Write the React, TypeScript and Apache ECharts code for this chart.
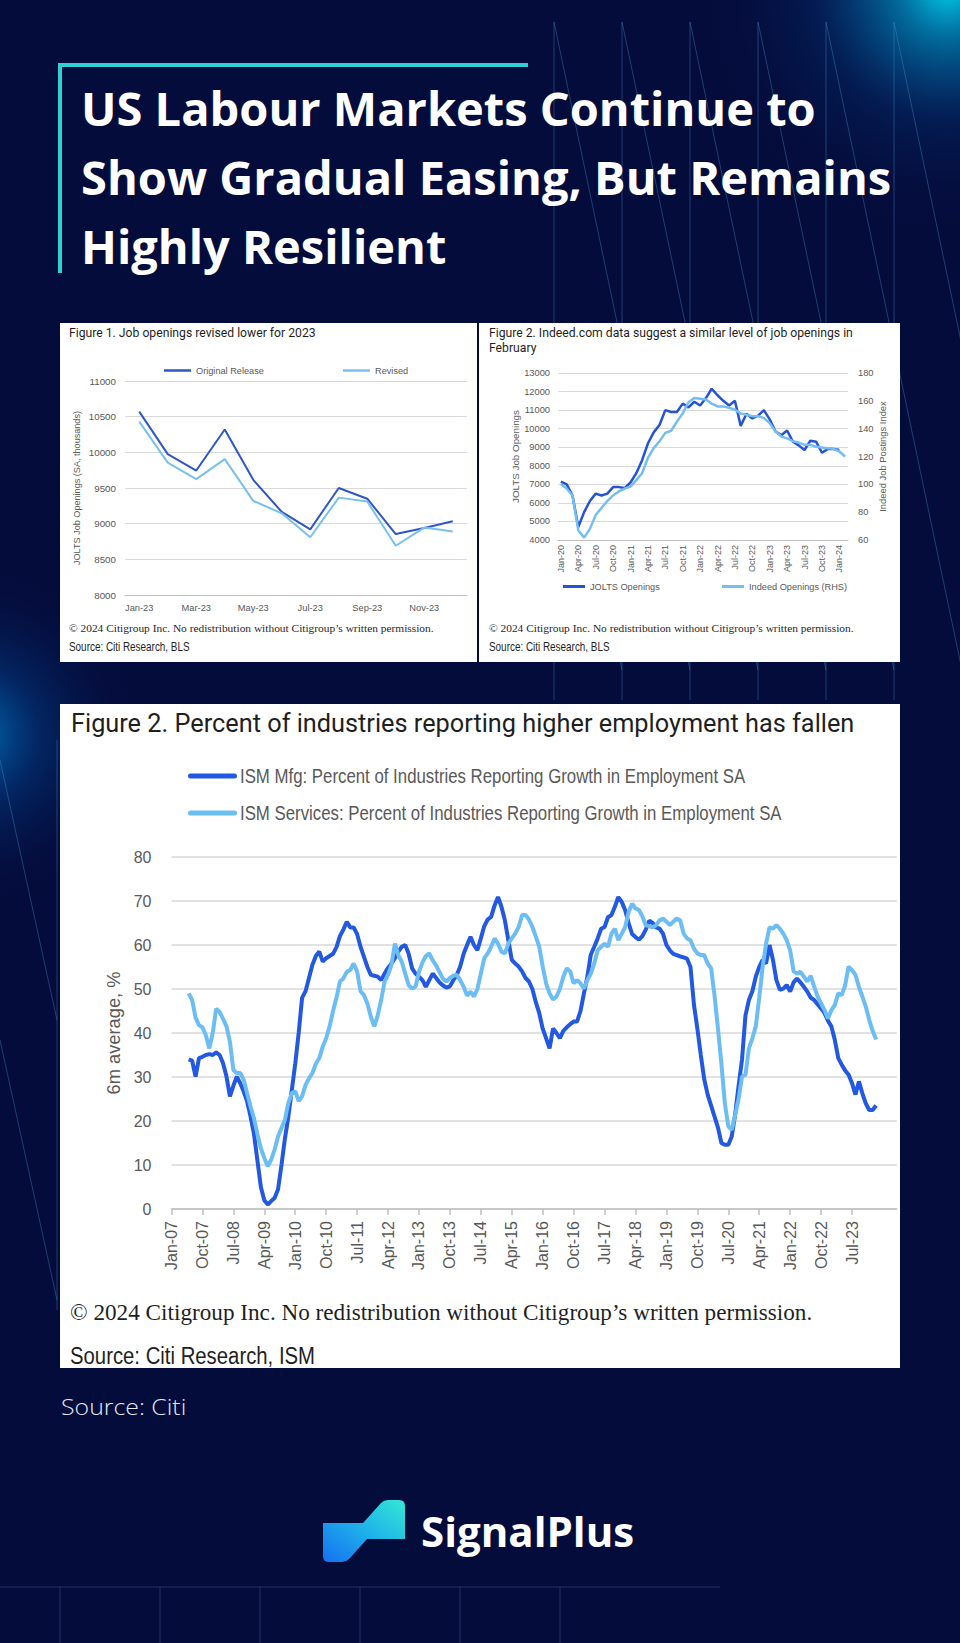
import React, { useEffect, useRef } from "react";
import * as echarts from "echarts";

// ---------- shared labels ----------
const MONTHS = ["Jan", "Feb", "Mar", "Apr", "May", "Jun", "Jul", "Aug", "Sep", "Oct", "Nov", "Dec"];
function monthLabels(startYear: number, startMonth: number, count: number): string[] {
  const out: string[] = [];
  for (let i = 0; i < count; i++) {
    const m = startMonth + i;
    const y = startYear + Math.floor(m / 12);
    out.push(MONTHS[m % 12] + "-" + String(y % 100).padStart(2, "0"));
  }
  return out;
}

// ---------- Figure 1: JOLTS 2023, original vs revised ----------
const fig1Categories = ["Jan-23", "Feb-23", "Mar-23", "Apr-23", "May-23", "Jun-23", "Jul-23", "Aug-23", "Sep-23", "Oct-23", "Nov-23", "Dec-23"];
const fig1Original = [10570, 9975, 9745, 10320, 9615, 9165, 8920, 9500, 9350, 8855, 8940, 9035];
const fig1Revised = [10430, 9855, 9625, 9905, 9320, 9145, 8810, 9365, 9310, 8690, 8945, 8890];
const fig1YTicks = { min: 8000, max: 11000, interval: 500 };

// ---------- Figure 2: JOLTS vs Indeed (Jan-20 .. Feb-24) ----------
const fig2Categories = monthLabels(2020, 0, 50);
const fig2Jolts = [
  7150, 7000, 6400, 4700, 5500, 6100, 6500, 6400, 6500, 6850, 6850, 6800,
  7100, 7600, 8300, 9200, 9800, 10200, 11000, 10900, 10900, 11350, 11150, 11450,
  11250, 11650, 12150, 11800, 11500, 11250, 11500, 10150, 10800, 10550, 10700, 11000,
  10500, 9850, 9650, 9900, 9300, 9100, 8850, 9350, 9300, 8700, 8900, 8900,
  8850,
];
const fig2Indeed = [
  100, 97, 92, 67, 61.7, 68, 78, 83, 88, 92, 95, 97,
  98.4, 103, 108, 119, 126, 131, 137, 138.5, 145, 151, 159, 162,
  161.5, 161, 158, 156, 156, 155, 153.6, 151, 150, 149, 149, 147.6,
  144, 138, 134.4, 133, 131, 130, 128.4, 128.4, 127, 126.5, 126, 125.5,
  123.6, 120,
];
const fig2LeftTicks = { min: 4000, max: 13000, interval: 1000 };
const fig2RightTicks = { min: 60, max: 180, interval: 20 };

// ---------- Figure 3: ISM % of industries reporting employment growth (6m avg) ----------
const fig3Categories = monthLabels(2007, 0, 212); // Jan-07 .. Aug-24
const ismStartIndex = 5; // Jun-07
const ismMfg = [
  34.0, 33.7, 30.1, 34.3, 34.6, 35.0, 35.2, 35.0, 35.6, 35.0,
  33.1, 30.1, 25.6, 28.0, 30.1, 28.6, 26.7, 24.5, 21.0, 17.0,
  11.0, 5.0, 2.0, 1.0, 1.8, 2.5, 4.5, 10.0, 16.0, 21.0,
  27.0, 33.0, 40.0, 48.0, 49.5, 52.5, 55.5, 57.5, 58.5, 56.2,
  57.0, 57.5, 58.0, 59.5, 62.0, 63.5, 65.3, 64.0, 64.0, 62.5,
  59.6, 57.3, 55.0, 53.2, 53.0, 52.8, 52.0, 53.5, 54.8, 55.8,
  57.0, 58.5, 59.6, 60.0, 58.0, 54.7, 53.5, 52.8, 52.0, 50.5,
  52.0, 53.5, 52.5, 51.5, 50.8, 50.3, 50.6, 52.0, 53.2, 55.1,
  58.0, 60.0, 61.9, 60.0, 58.8, 61.5, 64.3, 65.8, 66.4, 69.0,
  70.9, 68.7, 65.6, 61.1, 56.6, 55.8, 55.1, 54.0, 52.5, 51.7,
  50.0, 47.0, 44.5, 41.0, 38.8, 36.5, 41.0, 40.0, 38.8, 40.5,
  41.3, 42.0, 42.6, 42.6, 45.0, 49.0, 52.8, 57.8, 59.6, 61.5,
  63.7, 64.1, 66.3, 66.8, 68.7, 70.9, 69.8, 67.9, 65.0, 62.5,
  61.8, 61.2, 62.0, 63.5, 65.5, 65.0, 64.0, 63.7, 62.6, 60.0,
  58.8, 58.0, 57.7, 57.4, 57.2, 56.9, 55.0, 46.5, 41.0, 35.0,
  29.5, 26.0, 23.5, 21.0, 18.5, 15.0, 14.6, 14.6, 16.5, 21.5,
  28.0, 34.0, 44.0, 47.5, 49.5, 52.8, 55.0, 56.6, 55.8, 60.0,
  56.6, 52.0, 49.8, 50.1, 50.9, 49.4, 51.5, 52.4, 51.5, 50.5,
  49.4, 48.0, 47.5, 46.5, 45.6, 44.5, 42.8, 41.5, 38.4, 34.3,
  32.8, 31.5, 30.5, 28.6, 26.0, 29.0, 26.3, 24.0, 22.5, 22.5,
  23.5,
];
const ismServices = [
  49.0, 47.5, 43.5, 41.8, 41.3, 39.5, 36.5, 40.0, 45.5, 44.8,
  43.2, 41.5, 38.0, 31.6, 30.9, 30.9, 29.4, 26.3, 23.3, 20.6,
  17.0, 13.8, 11.6, 9.7, 11.2, 13.5, 16.5, 18.4, 20.3, 24.1,
  26.3, 26.8, 24.5, 25.6, 28.2, 29.7, 30.9, 33.0, 34.3, 36.9,
  38.8, 41.5, 45.0, 48.0, 51.7, 52.4, 53.9, 54.3, 55.8, 54.0,
  49.5, 48.6, 46.7, 43.7, 41.5, 44.0, 47.5, 51.7, 53.2, 55.5,
  60.3, 57.7, 56.2, 53.5, 50.9, 50.1, 50.5, 53.9, 56.0, 57.5,
  58.1, 56.5, 55.3, 53.8, 52.3, 51.7, 52.5, 53.0, 53.2, 52.0,
  50.5, 48.5, 49.4, 48.3, 50.0, 53.5, 57.0, 58.1, 59.6, 61.5,
  60.3, 58.5, 58.1, 60.3, 61.5, 62.6, 64.1, 66.8, 66.8, 65.8,
  64.1, 61.9, 59.6, 55.1, 51.3, 49.0, 47.6, 48.3, 50.0, 52.8,
  54.7, 54.0, 51.3, 52.0, 51.3, 50.1, 52.0, 53.5, 55.8, 58.8,
  59.6, 60.3, 59.6, 62.6, 63.7, 61.1, 62.6, 64.1, 67.5, 69.4,
  68.3, 68.0, 66.5, 64.5, 64.3, 64.0, 64.5, 65.6, 66.0, 65.3,
  64.5, 65.3, 66.0, 65.6, 62.6, 61.5, 61.1, 59.2, 58.1, 57.7,
  57.7, 55.8, 54.7, 48.5, 41.0, 33.0, 24.0, 18.8, 18.0, 21.4,
  25.0, 30.1, 30.5, 36.5, 38.8, 41.5, 48.0, 55.1, 60.3, 64.0,
  63.7, 64.5, 63.7, 62.6, 61.1, 58.8, 54.0, 53.5, 53.9, 52.8,
  51.7, 53.0, 50.5, 48.3, 46.7, 45.2, 43.3, 45.2, 46.4, 49.0,
  48.6, 50.9, 55.1, 54.3, 53.2, 50.5, 48.3, 46.0, 43.0, 40.5,
  38.5,
];
const fig3YTicks = { min: 0, max: 80, interval: 10 };
const fig3LabelEvery = 9;
const fig3LastLabel = "Jul-23";

// ---------- texts ----------
const titleLines = ["US Labour Markets Continue to", "Show Gradual Easing, But Remains", "Highly Resilient"];
const fig1Title = "Figure 1. Job openings revised lower for 2023";
const fig2TitleLines = ["Figure 2. Indeed.com data suggest a similar level of job openings in", "February"];
const fig3Title = "Figure 2. Percent of industries reporting higher employment has fallen";
const copyrightText = "© 2024 Citigroup Inc. No redistribution without Citigroup’s written permission.";
const fig12Source = "Source: Citi Research, BLS";
const fig3Source = "Source: Citi Research, ISM";
const pageSource = "Source: Citi";
const brandName = "SignalPlus";
const fig3SeriesNames = [
  "ISM Mfg: Percent of Industries Reporting Growth in Employment SA",
  "ISM Services: Percent of Industries Reporting Growth in Employment SA",
];

const SANS = "'Liberation Sans', Arial, sans-serif";
const GRAY = "#595959";
const GRID_LINE = "#d9d9d9";
const MFG_COLOR = "#2258E2";
const SVC_COLOR = "#6DBDF5";

let logoRegistered = false;
function registerLogo() {
  if (logoRegistered) return;
  echarts.graphic.registerShape(
    "logo",
    echarts.graphic.extendPath(
      "M0 23 L40 23 L58 3 Q61 0 65 0 L76 0 Q82 0 82 6 L82 39 L44 39 L26 59 Q23 62 19 62 L6 62 Q0 62 0 56 Z",
      {}
    )
  );
  logoRegistered = true;
}

const plainNumber = (v: number) => String(v);

function buildOption() {
  const lineColor = "rgba(70,150,205,0.38)";
  const cols = [554, 622, 690, 758, 826, 894];
  const deco: any[] = [];
  cols.forEach((x) => {
    deco.push({ type: "line", silent: true, z: -11, shape: { x1: x, y1: 22, x2: x, y2: 700 }, style: { stroke: lineColor, lineWidth: 1 } });
    deco.push({ type: "line", silent: true, z: -11, shape: { x1: x, y1: 22, x2: x + 68, y2: 346 }, style: { stroke: lineColor, lineWidth: 1 } });
    deco.push({ type: "line", silent: true, z: -11, shape: { x1: x, y1: 346, x2: x + 68, y2: 670 }, style: { stroke: lineColor, lineWidth: 1 } });
  });
  deco.push({ type: "line", silent: true, z: -11, shape: { x1: 57, y1: 740, x2: 57, y2: 1310 }, style: { stroke: lineColor, lineWidth: 1 } });
  deco.push({ type: "line", silent: true, z: -11, shape: { x1: 0, y1: 760, x2: 57, y2: 1020 }, style: { stroke: lineColor, lineWidth: 1 } });
  deco.push({ type: "line", silent: true, z: -11, shape: { x1: 0, y1: 1040, x2: 57, y2: 1300 }, style: { stroke: lineColor, lineWidth: 1 } });
  deco.push({ type: "line", silent: true, z: -11, shape: { x1: 0, y1: 1587, x2: 720, y2: 1587 }, style: { stroke: "rgba(70,90,150,0.45)", lineWidth: 1 } });
  [60, 160, 260, 360, 460, 560].forEach((x) =>
    deco.push({ type: "line", silent: true, z: -11, shape: { x1: x, y1: 1587, x2: x, y2: 1643 }, style: { stroke: "rgba(70,90,150,0.45)", lineWidth: 1 } })
  );

  const textEl = (text: string, x: number, y: number, style: any, extra: any = {}) =>
    Object.assign(
      {
        type: "text",
        silent: true,
        z: 5,
        x,
        y,
        style: Object.assign({ text, verticalAlign: "middle", align: "left" }, style),
      },
      extra
    );

  const legendRow = (name: string, color: string, y: number) => [
    { type: "rect", silent: true, z: 5, shape: { x: 188, y: y - 2.5, width: 49, height: 5, r: 2.5 }, style: { fill: color } },
    textEl(name, 240, y, { fill: GRAY, fontSize: 20.5, fontFamily: SANS }, { scaleX: 0.82 }),
  ];

  const graphic: any[] = [
    {
      type: "circle", silent: true, z: -12,
      shape: { cx: 948, cy: -12, r: 250 },
      style: {
        fill: new echarts.graphic.RadialGradient(0.5, 0.5, 0.5, [
          { offset: 0, color: "rgba(0,215,240,0.95)" },
          { offset: 0.2, color: "rgba(0,170,220,0.6)" },
          { offset: 0.55, color: "rgba(0,90,170,0.18)" },
          { offset: 1, color: "rgba(4,12,60,0)" },
        ]),
      },
    },
    {
      type: "circle", silent: true, z: -12,
      shape: { cx: -30, cy: 735, r: 170 },
      style: {
        fill: new echarts.graphic.RadialGradient(0.5, 0.5, 0.5, [
          { offset: 0, color: "rgba(0,150,225,0.75)" },
          { offset: 0.4, color: "rgba(0,100,190,0.3)" },
          { offset: 1, color: "rgba(4,12,60,0)" },
        ]),
      },
    },
    ...deco,
    {
      type: "polyline", silent: true, z: -9,
      shape: { points: [[60, 273], [60, 65], [528, 65]] },
      style: { stroke: "#30cfd6", lineWidth: 4, fill: null },
    },
    { type: "rect", silent: true, z: -10, shape: { x: 60, y: 323, width: 417, height: 339 }, style: { fill: "#ffffff" } },
    { type: "rect", silent: true, z: -10, shape: { x: 479, y: 323, width: 421, height: 339 }, style: { fill: "#ffffff" } },
    { type: "rect", silent: true, z: -10, shape: { x: 60, y: 704, width: 840, height: 664 }, style: { fill: "#ffffff" } },
    ...titleLines.map((t, i) =>
      textEl(t, 81, 108 + i * 69, { fill: "#ffffff", fontSize: 47, fontWeight: 700, fontFamily: "'Open Sans', 'Noto Sans', sans-serif" })
    ),
    textEl(fig1Title, 69, 333, { fill: "#1f1f1f", fontSize: 12.2, fontFamily: "Roboto, 'Noto Sans', sans-serif" }),
    textEl(copyrightText, 69, 628, { fill: "#1f1f1f", fontSize: 11.4, fontFamily: "'Liberation Serif', 'DejaVu Serif', serif" }),
    textEl(fig12Source, 69, 647, { fill: "#1f1f1f", fontSize: 12.1, fontFamily: SANS }, { scaleX: 0.82 }),
    textEl(fig2TitleLines[0], 489, 333, { fill: "#1f1f1f", fontSize: 12.2, fontFamily: "Roboto, 'Noto Sans', sans-serif" }),
    textEl(fig2TitleLines[1], 489, 348, { fill: "#1f1f1f", fontSize: 12.2, fontFamily: "Roboto, 'Noto Sans', sans-serif" }),
    textEl(copyrightText, 489, 628, { fill: "#1f1f1f", fontSize: 11.4, fontFamily: "'Liberation Serif', 'DejaVu Serif', serif" }),
    textEl(fig12Source, 489, 647, { fill: "#1f1f1f", fontSize: 12.1, fontFamily: SANS }, { scaleX: 0.82 }),
    textEl(fig3Title, 71, 723, { fill: "#1f1f1f", fontSize: 25.3, fontFamily: "Roboto, 'Noto Sans', sans-serif" }),
    ...legendRow(fig3SeriesNames[0], MFG_COLOR, 776),
    ...legendRow(fig3SeriesNames[1], SVC_COLOR, 813),
    textEl(copyrightText, 70, 1312, { fill: "#1f1f1f", fontSize: 23.2, fontFamily: "'Liberation Serif', 'DejaVu Serif', serif" }),
    textEl(fig3Source, 70, 1355, { fill: "#1f1f1f", fontSize: 24.8, fontFamily: SANS }, { scaleX: 0.82 }),
    textEl(pageSource, 61, 1407, { fill: "#e3e7f0", fontSize: 22, fontWeight: 300, fontFamily: "'Open Sans', 'Noto Sans', sans-serif" }, { scaleX: 1.13 }),
    {
      type: "logo", silent: true, z: 5, x: 323, y: 1500, scaleX: 1, scaleY: 1,
      style: {
        fill: new echarts.graphic.LinearGradient(0, 1, 1, 0, [
          { offset: 0, color: "#1570f0" },
          { offset: 0.5, color: "#1fb0ea" },
          { offset: 1, color: "#34e8d4" },
        ]),
      },
    },
    textEl(brandName, 421, 1530, { fill: "#ffffff", fontSize: 42, fontWeight: 700, fontFamily: "'Open Sans', 'Noto Sans', sans-serif" }),
  ];

  const smallAxisLabel = { color: GRAY, fontFamily: SANS, fontSize: 9.8 };
  const smallLegendText = { color: GRAY, fontFamily: SANS, fontSize: 9.2 };

  return {
    animation: false,
    backgroundColor: "#040c3c",
    graphic,
    legend: [
      { data: ["Original Release"], left: 159, top: 361, itemWidth: 27, itemHeight: 2.5, icon: "rect", textStyle: smallLegendText },
      { data: ["Revised"], left: 338, top: 361, itemWidth: 27, itemHeight: 2.5, icon: "rect", textStyle: smallLegendText },
      { data: ["JOLTS Openings"], left: 558, top: 577, itemWidth: 22, itemHeight: 3, icon: "rect", textStyle: smallLegendText },
      { data: ["Indeed Openings (RHS)"], left: 717, top: 577, itemWidth: 22, itemHeight: 3, icon: "rect", textStyle: smallLegendText },
    ],
    grid: [
      { left: 125, top: 381, width: 342, height: 214 },
      { left: 558, top: 373, width: 290, height: 167 },
      { left: 171.5, top: 857, width: 725.2, height: 352 },
    ],
    xAxis: [
      {
        type: "category", gridIndex: 0, data: fig1Categories, boundaryGap: true,
        axisLine: { lineStyle: { color: "#bfbfbf" } },
        axisTick: { interval: 1, length: 4, lineStyle: { color: "#bfbfbf" } },
        axisLabel: Object.assign({ interval: 1, margin: 8 }, smallAxisLabel, { fontSize: 9.3 }),
      },
      {
        type: "category", gridIndex: 1, data: fig2Categories, boundaryGap: true,
        axisLine: { lineStyle: { color: "#bfbfbf" } },
        axisTick: { interval: 2, length: 3, alignWithLabel: true, lineStyle: { color: "#bfbfbf" } },
        axisLabel: Object.assign({ interval: 2, rotate: 90, margin: 5 }, smallAxisLabel, { fontSize: 9 }),
      },
      {
        type: "category", gridIndex: 2, data: fig3Categories, boundaryGap: false,
        axisLine: { lineStyle: { color: "#bfbfbf", width: 1.5 } },
        axisTick: {
          interval: (i: number) => i % fig3LabelEvery === 0 && i <= fig3Categories.indexOf(fig3LastLabel),
          length: 6, lineStyle: { color: "#bfbfbf", width: 1.5 },
        },
        axisLabel: {
          interval: (i: number) => i % fig3LabelEvery === 0 && i <= fig3Categories.indexOf(fig3LastLabel),
          rotate: 90, margin: 12, color: GRAY, fontFamily: SANS, fontSize: 16,
        },
      },
    ],
    yAxis: [
      {
        type: "value", gridIndex: 0, ...fig1YTicks,
        name: "JOLTS Job Openings (SA, thousands)", nameLocation: "middle", nameGap: 44,
        nameTextStyle: { color: GRAY, fontFamily: SANS, fontSize: 9.1 },
        axisLine: { show: false }, axisTick: { show: false },
        axisLabel: Object.assign({ margin: 9, formatter: plainNumber }, smallAxisLabel),
        splitLine: { lineStyle: { color: GRID_LINE } },
      },
      {
        type: "value", gridIndex: 1, position: "left", ...fig2LeftTicks,
        name: "JOLTS Job Openings", nameLocation: "middle", nameGap: 35,
        nameTextStyle: { color: GRAY, fontFamily: SANS, fontSize: 9.8 },
        axisLine: { show: false }, axisTick: { show: false },
        axisLabel: Object.assign({ margin: 8, formatter: plainNumber }, smallAxisLabel, { fontSize: 9.3 }),
        splitLine: { lineStyle: { color: GRID_LINE } },
      },
      {
        type: "value", gridIndex: 1, position: "right", ...fig2RightTicks,
        name: "Indeed Job Postings Index", nameLocation: "middle", nameGap: 30, nameRotate: 90,
        nameTextStyle: { color: GRAY, fontFamily: SANS, fontSize: 9.4 },
        axisLine: { show: false }, axisTick: { show: false },
        axisLabel: Object.assign({ margin: 10, formatter: plainNumber }, smallAxisLabel, { fontSize: 9.3 }),
        splitLine: { show: false },
      },
      {
        type: "value", gridIndex: 2, ...fig3YTicks,
        name: "6m average, %", nameLocation: "middle", nameGap: 49,
        nameTextStyle: { color: GRAY, fontFamily: SANS, fontSize: 18.3 },
        axisLine: { show: false }, axisTick: { show: false },
        axisLabel: { margin: 20, color: GRAY, fontFamily: SANS, fontSize: 16 },
        splitLine: { lineStyle: { color: GRID_LINE, width: 1.5 } },
      },
    ],
    series: [
      { name: "Original Release", type: "line", xAxisIndex: 0, yAxisIndex: 0, data: fig1Original, color: "#2E56C9", showSymbol: false, symbol: "none", lineStyle: { width: 2 } },
      { name: "Revised", type: "line", xAxisIndex: 0, yAxisIndex: 0, data: fig1Revised, color: "#79C0F0", showSymbol: false, symbol: "none", lineStyle: { width: 2 } },
      { name: "JOLTS Openings", type: "line", xAxisIndex: 1, yAxisIndex: 1, data: fig2Jolts, color: "#2553D6", showSymbol: false, symbol: "none", lineStyle: { width: 2.5 } },
      { name: "Indeed Openings (RHS)", type: "line", xAxisIndex: 1, yAxisIndex: 2, data: fig2Indeed, color: "#74BEF2", showSymbol: false, symbol: "none", lineStyle: { width: 2.5 } },
      {
        name: fig3SeriesNames[0], type: "line", xAxisIndex: 2, yAxisIndex: 3,
        data: ismMfg.map((v, i) => [ismStartIndex + i, v]), color: MFG_COLOR, showSymbol: false, symbol: "none", lineStyle: { width: 4 },
      },
      {
        name: fig3SeriesNames[1], type: "line", xAxisIndex: 2, yAxisIndex: 3,
        data: ismServices.map((v, i) => [ismStartIndex + i, v]), color: SVC_COLOR, showSymbol: false, symbol: "none", lineStyle: { width: 4 },
      },
    ],
  };
}

export default function App() {
  const ref = useRef<HTMLDivElement>(null);
  useEffect(() => {
    document.body.style.margin = "0";
    registerLogo();
    const chart = echarts.init(ref.current as HTMLDivElement, undefined, { renderer: "svg" });
    chart.setOption(buildOption() as any);
    return () => chart.dispose();
  }, []);
  return <div ref={ref} style={{ width: 960, height: 1643 }} />;
}
